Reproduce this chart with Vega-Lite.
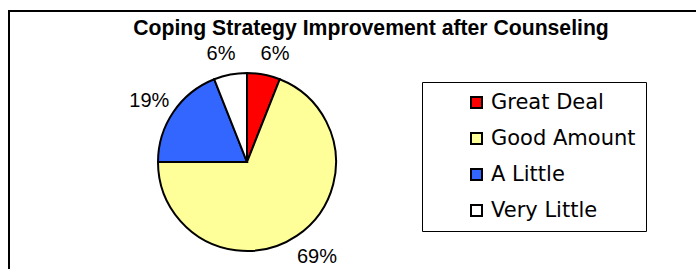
{
  "$schema": "https://vega.github.io/schema/vega-lite/v6.json",
  "autosize": {"type": "none"},
  "width": 690,
  "height": 261,
  "padding": {"left": 9, "top": 11, "right": -3, "bottom": -3},
  "background": "white",
  "view": {"stroke": "black", "strokeWidth": 2, "fill": "white"},
  "title": {
    "text": "Coping Strategy Improvement after Counseling",
    "font": "Liberation Sans",
    "fontSize": 21.2,
    "fontWeight": "bold",
    "color": "black",
    "anchor": "middle",
    "frame": "group",
    "offset": -28,
    "dx": 17
  },
  "data": {
    "values": [
      {"category": "Great Deal", "share": 0.06},
      {"category": "Good Amount", "share": 0.69},
      {"category": "A Little", "share": 0.19},
      {"category": "Very Little", "share": 0.06}
    ]
  },
  "transform": [{"window": [{"op": "row_number", "as": "idx"}]}],
  "encoding": {
    "theta": {"field": "share", "type": "quantitative", "stack": true},
    "order": {"field": "idx", "type": "quantitative"}
  },
  "layer": [
    {
      "mark": {"type": "arc", "outerRadius": 89, "x": 238, "y": 151, "stroke": "black", "strokeWidth": 2},
      "encoding": {
        "color": {
          "field": "category",
          "type": "nominal",
          "scale": {
            "domain": ["Great Deal", "Good Amount", "A Little", "Very Little"],
            "range": ["#FF0000", "#FFFF99", "#3366FF", "#FFFFFF"]
          },
          "legend": {
            "title": null,
            "orient": "none",
            "legendX": 413,
            "legendY": 71,
            "padding": 10,
            "strokeColor": "black",
            "symbolType": "square",
            "symbolSize": 121,
            "symbolStrokeColor": "black",
            "symbolStrokeWidth": 2,
            "symbolOpacity": 1,
            "symbolOffset": 34,
            "labelFont": "DejaVu Sans",
            "labelFontSize": 21,
            "labelColor": "black",
            "labelOffset": 4,
            "labelLimit": 400,
            "rowPadding": 14
          }
        }
      }
    },
    {
      "mark": {
        "type": "text",
        "radius": 112,
        "x": 238,
        "y": 151,
        "font": "Liberation Sans",
        "fontSize": 20,
        "fill": "black",
        "dx": {"expr": "(datum.share_start + datum.share_end) < 1 ? 7 : -5"},
        "dy": 2
      },
      "encoding": {
        "text": {"field": "share", "type": "quantitative", "format": ".0%"},
        "detail": {"field": "category", "type": "nominal"}
      }
    }
  ]
}
